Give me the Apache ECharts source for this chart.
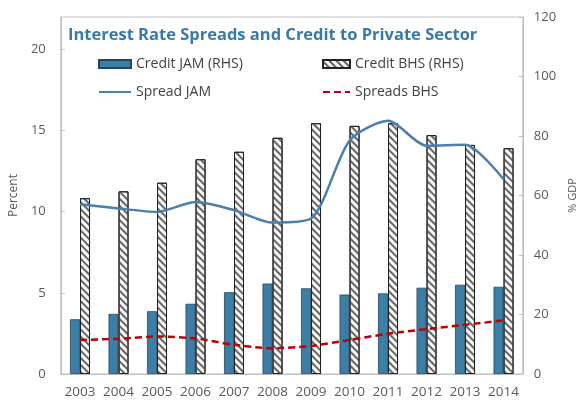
<!DOCTYPE html>
<html>
<head>
<meta charset="utf-8">
<script src="https://cdn.jsdelivr.net/npm/echarts@6/dist/echarts.min.js"></script>
<style>
  html, body { margin: 0; padding: 0; background: #fff; }
  #chart { width: 586px; height: 402px; }
</style>
</head>
<body>
<div id="chart"></div>
<script>
// Years on the category axis
const years = ['2003','2004','2005','2006','2007','2008','2009','2010','2011','2012','2013','2014'];
// Credit to private sector, % of GDP (right-hand axis)
const creditJAM = [18.4, 20.2, 21.1, 23.6, 27.5, 30.4, 28.8, 26.7, 27.1, 29.0, 30.0, 29.3];
const creditBHS = [59.1, 61.4, 64.3, 72.2, 74.7, 79.4, 84.3, 83.4, 84.3, 80.3, 77.0, 75.9];
// Interest rate spreads, percent (left-hand axis)
const spreadJAM = [10.46, 10.2, 9.99, 10.6, 10.1, 9.33, 9.58, 14.38, 15.6, 14.07, 14.13, 12.0];
const spreadBHS = [2.1, 2.17, 2.31, 2.19, 1.8, 1.59, 1.73, 2.1, 2.48, 2.77, 3.03, 3.3];
// Axis scales
const leftTicks = { min: 0, max: 22, interval: 5 };
const rightTicks = { min: 0, max: 120, interval: 20 };

const font = '"Open Sans", Lato, sans-serif';
const axisGray = '#bfbfbf';
const labelGray = '#595959';

const chart = echarts.init(document.getElementById('chart'), null, { renderer: 'canvas' });

const legendText = { color: '#404040', fontFamily: font, fontSize: 14 };

chart.setOption({
  animation: false,
  backgroundColor: '#fff',
  title: {
    text: 'Interest Rate Spreads and Credit to Private Sector',
    left: 63, top: 22,
    textStyle: { color: '#3a78a8', fontFamily: font, fontWeight: 'bold', fontSize: 16.5 }
  },
  legend: [
    {
      orient: 'vertical', left: 93, top: 52, itemWidth: 32, itemHeight: 8, itemGap: 14,
      textStyle: legendText,
      data: [
        { name: 'Credit JAM (RHS)', icon: 'rect' },
        { name: 'Spread JAM', itemStyle: { opacity: 0 } }
      ]
    },
    {
      orient: 'vertical', left: 317, top: 52, itemWidth: 27, itemHeight: 8, itemGap: 14,
      textStyle: legendText,
      data: [
        { name: 'Credit BHS (RHS)', icon: 'rect' },
        { name: 'Spreads BHS', itemStyle: { opacity: 0 } }
      ]
    }
  ],
  grid: {
    left: 58, right: 59, top: 17, bottom: 28,
    show: true, borderColor: axisGray, borderWidth: 1
  },
  xAxis: {
    type: 'category', data: years,
    axisLine: { lineStyle: { color: axisGray } },
    axisTick: { inside: true, length: 5, lineStyle: { color: axisGray } },
    axisLabel: { color: labelGray, fontFamily: font, fontSize: 13.5, margin: 11, interval: 0 }
  },
  yAxis: [
    {
      type: 'value', min: leftTicks.min, max: leftTicks.max, interval: leftTicks.interval,
      name: 'Percent', nameLocation: 'middle', nameGap: 31, nameRotate: 90,
      nameTextStyle: { color: labelGray, fontFamily: font, fontSize: 12 },
      splitLine: { show: false },
      axisLine: { show: true, lineStyle: { color: axisGray } },
      axisTick: { show: true, inside: true, length: 4, lineStyle: { color: axisGray } },
      axisLabel: { color: labelGray, fontFamily: font, fontSize: 13, margin: 15, showMaxLabel: false }
    },
    {
      type: 'value', min: rightTicks.min, max: rightTicks.max, interval: rightTicks.interval,
      name: '% GDP', nameLocation: 'middle', nameGap: 44, nameRotate: 90,
      nameTextStyle: { color: labelGray, fontFamily: font, fontSize: 11 },
      splitLine: { show: false },
      axisLine: { show: true, lineStyle: { color: axisGray } },
      axisTick: { show: true, inside: true, length: 4, lineStyle: { color: axisGray } },
      axisLabel: { color: labelGray, fontFamily: font, fontSize: 13, margin: 11 }
    }
  ],
  series: [
    {
      name: 'Credit JAM (RHS)', type: 'bar', yAxisIndex: 1, data: creditJAM,
      barWidth: 10, barGap: '0%',
      itemStyle: { color: '#3d7ea6', borderColor: '#23465c', borderWidth: 0.8 }
    },
    {
      name: 'Credit BHS (RHS)', type: 'bar', yAxisIndex: 1, data: creditBHS,
      barWidth: 10, barGap: '0%',
      itemStyle: {
        color: '#f7f7f7', borderColor: '#222', borderWidth: 1,
        decal: {
          symbol: 'rect', color: '#666',
          dashArrayX: [1, 0], dashArrayY: [1.2, 2.2],
          rotation: Math.PI / 4
        }
      }
    },
    {
      name: 'Spread JAM', type: 'line', yAxisIndex: 0, data: spreadJAM,
      smooth: 0.25, symbol: 'none',
      lineStyle: { color: '#4a7fab', width: 2.5 },
      itemStyle: { color: '#4a7fab' }
    },
    {
      name: 'Spreads BHS', type: 'line', yAxisIndex: 0, data: spreadBHS,
      smooth: 0.25, symbol: 'none',
      lineStyle: { color: '#c00000', width: 2.5, type: [7, 4] },
      itemStyle: { color: '#c00000' }
    }
  ]
});
</script>
</body>
</html>
